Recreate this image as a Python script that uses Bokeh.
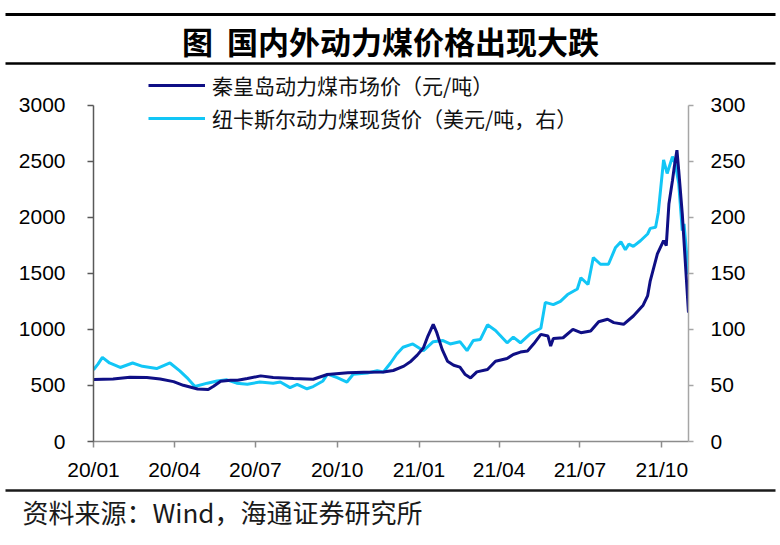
import pandas as pd
from bokeh.plotting import figure
from bokeh.models import Range1d, LinearAxis, FixedTicker, Legend, LegendItem
from bokeh.core.properties import value
from bokeh.embed import file_html
from bokeh.resources import INLINE

# ---------------- data ----------------
qhd_dates = ["2020-01-01", "2020-01-23", "2020-02-11", "2020-03-01", "2020-03-16", "2020-03-31",
             "2020-04-11", "2020-04-27", "2020-05-09", "2020-05-15", "2020-05-23", "2020-06-03",
             "2020-06-11", "2020-06-22", "2020-07-07", "2020-07-21", "2020-08-13", "2020-09-04",
             "2020-09-20", "2020-10-13", "2020-10-31", "2020-11-22", "2020-12-03", "2020-12-15",
             "2020-12-23", "2020-12-30", "2021-01-06", "2021-01-11", "2021-01-17", "2021-01-21",
             "2021-01-27", "2021-02-02", "2021-02-09", "2021-02-16", "2021-02-22", "2021-02-28",
             "2021-03-07", "2021-03-19", "2021-03-28", "2021-04-10", "2021-04-17", "2021-04-25",
             "2021-05-03", "2021-05-10", "2021-05-18", "2021-05-26", "2021-05-29", "2021-06-01",
             "2021-06-12", "2021-06-23", "2021-07-02", "2021-07-13", "2021-07-22", "2021-08-01",
             "2021-08-08", "2021-08-19", "2021-08-30", "2021-09-10", "2021-09-15", "2021-09-18",
             "2021-09-26", "2021-10-03", "2021-10-06", "2021-10-09", "2021-10-13", "2021-10-15",
             "2021-10-18", "2021-10-20", "2021-10-24", "2021-10-31"]
qhd_values = [552, 558, 573, 570, 558, 534,
              501, 468, 463, 492, 537, 546,
              546, 561, 585, 570, 561, 555,
              597, 612, 618, 620, 633, 672,
              716, 770, 836, 940, 1045, 970,
              821, 716, 680, 663, 597, 567,
              621, 642, 716, 740, 776, 797,
              806, 871, 955, 940, 851, 919,
              925, 1000, 970, 985, 1068, 1090,
              1060, 1045, 1119, 1215, 1298, 1433,
              1672, 1791, 1746, 2120, 2328, 2447,
              2597, 2418, 2030, 1149]

nc_dates = ["2020-01-01", "2020-01-06", "2020-01-11", "2020-01-19", "2020-01-31", "2020-02-14",
            "2020-02-25", "2020-03-12", "2020-03-27", "2020-04-07", "2020-04-15", "2020-04-24",
            "2020-05-08", "2020-05-19", "2020-05-30", "2020-06-10", "2020-06-22", "2020-07-06",
            "2020-07-21", "2020-07-29", "2020-08-09", "2020-08-17", "2020-08-28", "2020-09-04",
            "2020-09-15", "2020-09-20", "2020-10-01", "2020-10-12", "2020-10-19", "2020-11-04",
            "2020-11-15", "2020-11-22", "2020-11-30", "2020-12-07", "2020-12-14", "2020-12-25",
            "2021-01-06", "2021-01-17", "2021-01-28", "2021-02-05", "2021-02-16", "2021-02-24",
            "2021-03-03", "2021-03-11", "2021-03-19", "2021-03-28", "2021-04-10", "2021-04-17",
            "2021-04-25", "2021-05-06", "2021-05-18", "2021-05-23", "2021-06-01", "2021-06-09",
            "2021-06-17", "2021-06-28", "2021-07-02", "2021-07-10", "2021-07-16", "2021-07-24",
            "2021-08-02", "2021-08-10", "2021-08-16", "2021-08-21", "2021-08-25", "2021-08-30",
            "2021-09-07", "2021-09-15", "2021-09-18", "2021-09-24", "2021-09-27", "2021-10-03",
            "2021-10-07", "2021-10-13", "2021-10-16", "2021-10-20", "2021-10-24", "2021-10-26",
            "2021-10-31"]
nc_values = [64, 69, 75, 70, 66, 70,
             67, 65, 70, 63, 57, 49,
             52, 54, 55, 52, 51, 53,
             52, 53, 48, 51, 47, 49,
             54, 60, 57, 53, 60, 61,
             63, 62, 70, 78, 84, 87,
             81, 89, 90, 87, 89, 81,
             90, 91, 104, 99, 88, 93,
             88, 96, 101, 124, 122, 125,
             131, 136, 146, 140, 164, 158,
             158, 173, 178, 171, 176, 174,
             179, 185, 190, 191, 204, 251,
             239, 254, 248, 230, 188, 194,
             149]

tick_dates = ["2020-01-01", "2020-04-01", "2020-07-01", "2020-10-01",
              "2021-01-01", "2021-04-01", "2021-07-01", "2021-10-01"]
tick_labels = ["20/01", "20/04", "20/07", "20/10", "21/01", "21/04", "21/07", "21/10"]
left_ticks = [0, 500, 1000, 1500, 2000, 2500, 3000]
right_ticks = [0, 50, 100, 150, 200, 250, 300]

title_text = "图\u00a0\u00a0国内外动力煤价格出现大跌"
series_names = ["秦皇岛动力煤市场价（元/吨）", "纽卡斯尔动力煤现货价（美元/吨，右）"]
source_text = "资料来源：Wind，海通证券研究所"

# ---------------- style ----------------
NAVY = "#0f0f85"
CYAN = "#12c6f6"
CJK = "Noto Sans CJK SC"
NUM = "Liberation Sans"
W = 776
HEAD_H = 60                          # top rule + title
RULE_H = 12                          # rule under the title
MAIN_TOP = HEAD_H + RULE_H
MAIN_H = 485 - MAIN_TOP
FOOT_H = 55
FRAME_L, FRAME_R = 93, 688           # page x of left / right axis
FRAME_BOTTOM = 441 - MAIN_TOP        # frame bottom inside the main figure
PX_PER_FULL = 336.5                  # pixels from 0 to the top tick


def blank(height):
    # frame covers the whole canvas; y counts up from the bottom edge
    f = figure(width=W, height=height, x_range=Range1d(0, W), y_range=Range1d(0, height),
               x_axis_location=None, y_axis_location=None, toolbar_location=None,
               title=None, output_backend="svg", min_border=0)
    f.outline_line_color = None
    f.grid.visible = False
    f.background_fill_color = "white"
    f.border_fill_color = "white"
    return f


# ---------------- header: thick rule and title ----------------
head = blank(HEAD_H)
head.quad(left=[5], right=[775], top=[HEAD_H - 12.5], bottom=[HEAD_H - 15.5],
          fill_color="black", line_color=None)
head.text(x=[390], y=[HEAD_H - 40], text=[title_text], text_align="center",
          text_baseline="middle", text_font=value(CJK), text_font_size="31px",
          text_font_style="bold", text_color="black")

# ---------------- rule under the title (page y ~63) ----------------
rule = blank(RULE_H)
rule.quad(left=[5], right=[775], top=[RULE_H - 1.8], bottom=[RULE_H - 4.3],
          fill_color="black", line_color=None)

# ---------------- main chart ----------------
qhd_x = pd.to_datetime(qhd_dates)
nc_x = pd.to_datetime(nc_dates)
x_start = pd.Timestamp("2020-01-01")
x_end = pd.Timestamp("2021-10-31")

left_top = left_ticks[-1] * FRAME_BOTTOM / PX_PER_FULL
right_top = right_ticks[-1] * FRAME_BOTTOM / PX_PER_FULL

p = figure(width=W, height=MAIN_H, x_axis_type="datetime",
           x_range=Range1d(x_start, x_end), y_range=Range1d(0, left_top),
           output_backend="svg", toolbar_location=None, title=None,
           min_border_left=FRAME_L, min_border_right=W - FRAME_R,
           min_border_top=0, min_border_bottom=MAIN_H - FRAME_BOTTOM)
p.extra_y_ranges = {"right": Range1d(0, right_top)}
p.grid.visible = False
p.outline_line_color = None
p.background_fill_color = "white"
p.border_fill_color = "white"

tick_ms = [int(pd.Timestamp(d).value // 10**6) for d in tick_dates]
xa = p.xaxis[0]
xa.ticker = FixedTicker(ticks=tick_ms)
xa.major_label_overrides = {t: l for t, l in zip(tick_ms, tick_labels)}
xa.axis_line_color = "#8c8c8c"
xa.major_tick_line_color = "#8c8c8c"
xa.major_tick_out = 6
xa.major_label_standoff = 10

ya = p.yaxis[0]
ya.ticker = FixedTicker(ticks=left_ticks)
ya.bounds = (left_ticks[0], left_ticks[-1])
ya.axis_line_color = "#595959"
ya.major_tick_line_color = "#595959"
ya.major_tick_out = 6
ya.major_label_standoff = 22

ra = LinearAxis(y_range_name="right", ticker=FixedTicker(ticks=right_ticks),
                bounds=(right_ticks[0], right_ticks[-1]))
ra.axis_line_color = "#a6a6a6"
ra.major_tick_line_color = "#a6a6a6"
ra.major_tick_out = 5
ra.major_label_standoff = 17
p.add_layout(ra, "right")

for ax in (xa, ya, ra):
    ax.minor_tick_line_color = None
    ax.major_tick_in = 0
    ax.major_label_text_font = NUM
    ax.major_label_text_font_size = "21px"
    ax.major_label_text_color = "black"
    ax.axis_line_width = 1.5
    ax.major_tick_line_width = 1.5

r_nc = p.line(nc_x, nc_values, y_range_name="right", line_color=CYAN, line_width=3)
r_qhd = p.line(qhd_x, qhd_values, line_color=NAVY, line_width=3)

# legend: rows centred at page y ~88 and ~119; left edge at page x 148
ROW_H, ROW_GAP = 28, 3
leg_rows_h = 2 * ROW_H + ROW_GAP
leg_top = 88 - ROW_H / 2 - MAIN_TOP
legend = Legend(items=[LegendItem(label=series_names[0], renderers=[r_qhd]),
                       LegendItem(label=series_names[1], renderers=[r_nc])],
                location=(148 - FRAME_L, FRAME_BOTTOM - leg_top - leg_rows_h),
                orientation="vertical",
                glyph_width=57, glyph_height=ROW_H, label_height=ROW_H, spacing=ROW_GAP,
                padding=0, margin=0, label_standoff=7,
                border_line_color=None, background_fill_alpha=0,
                label_text_font=CJK, label_text_font_size="21px",
                label_text_color="#111111")
p.add_layout(legend)

# ---------------- footer ----------------
foot = blank(FOOT_H)
foot.quad(left=[5], right=[775], top=[FOOT_H - 3.8], bottom=[FOOT_H - 6.3],
          fill_color="#1a1a1a", line_color=None)
foot.text(x=[22], y=[FOOT_H - 25.5], text=[source_text], text_align="left",
          text_baseline="middle", text_font=value(CJK), text_font_size="26px",
          text_color="#1a1a1a")

open("out.html", "w").write(file_html([head, rule, p, foot], INLINE))
